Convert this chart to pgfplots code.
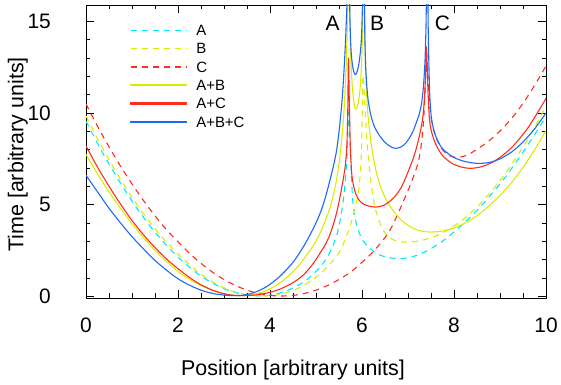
\documentclass[border=0pt]{standalone}
\usepackage{pgfplots}
\pgfplotsset{compat=1.18}
\usepackage{fontspec}
\setmainfont{Liberation Sans}
\definecolor{cA}{RGB}{0,232,250}
\definecolor{cB}{RGB}{218,236,0}
\definecolor{cC}{RGB}{255,45,30}
\definecolor{cABC}{RGB}{30,105,250}
\begin{document}
\begin{tikzpicture}
\begin{axis}[
  at={(86bp,87bp)}, anchor=south west,
  scale only axis, width=460bp, height=293bp,
  xmin=0, xmax=10, ymin=-0.1, ymax=15.9,
  xtick={0,2,...,10}, ytick={0,5,10,15},
  minor x tick num=3, minor y tick num=4,
  major tick length=8bp, minor tick length=4.5bp,
  tick style={black, line width=0.7bp},
  axis line style={line width=0.8bp},
  /pgf/number format/assume math mode=true,
  ticklabel style={font=\fontsize{21}{25}\selectfont, inner sep=0pt},
  xticklabel style={yshift=-19.5bp},
  yticklabel style={xshift=-35bp},
  xlabel={Position [arbitrary units]}, ylabel={Time [arbitrary units]},
  label style={font=\fontsize{21.5}{25}\selectfont},
  xlabel style={at={(axis description cs:0.45,-0.246)}, anchor=center},
  ylabel style={at={(axis description cs:-0.148,0.49)}, anchor=center},
  legend style={at={(axis description cs:0.0957,0.945)}, anchor=north west,
    draw=none, fill=none, inner sep=0pt, outer sep=0pt, row sep=0pt, column sep=9bp,
    font=\fontsize{15}{18}\selectfont,
    nodes={inner sep=0pt, text height=14.5bp, text depth=3.8bp}},
  legend cell align=left,
  legend image code/.code={\draw[#1] (0bp,0bp) -- (56bp,0bp);},
  every axis plot/.append style={line width=1.1bp, line join=round},
]
\addlegendimage{draw=cA, line width=1.3bp, dash pattern=on 6bp off 5bp}
\addlegendentry{A}
\addlegendimage{draw=cB, line width=1.3bp, dash pattern=on 6bp off 5bp}
\addlegendentry{B}
\addlegendimage{draw=cC, line width=1.3bp, dash pattern=on 6bp off 5bp}
\addlegendentry{C}
\addlegendimage{legend image code/.code={\fill[cB] (0bp,-0.7bp) rectangle (56bp,0.7bp);}}
\addlegendentry{A+B}
\addlegendimage{legend image code/.code={\fill[cC] (0bp,-0.7bp) rectangle (56bp,0.7bp);}}
\addlegendentry{A+C}
\addlegendimage{legend image code/.code={\fill[cABC] (0bp,-0.7bp) rectangle (56bp,0.7bp);}}
\addlegendentry{A+B+C}
\addplot[forget plot, cA, dash pattern=on 6bp off 5bp, smooth, tension=0.5] coordinates {
(0,9.56) (0.25,8.35) (0.5,7.22) (0.75,6.18) (1,5.19) (1.25,4.3) (1.5,3.5) (1.75,2.78) (2,2.13) (2.25,1.58) (2.5,1.1) (2.75,0.71) (3,0.41) (3.25,0.2) (3.5,0.07) (3.7,0.02) (3.85,0.02) (4,0.05) (4.2,0.16) (4.4,0.33) (4.6,0.58) (4.8,0.9) (5,1.35) (5.1,1.62) (5.2,1.95) (5.3,2.38) (5.4,2.95) (5.48,3.6) (5.55,4.5) (5.6,5.4) (5.64,6.4) (5.67,7.5) (5.69,8.6) (5.705,10.0) (5.725,9.6) (5.745,8.2) (5.77,6.6) (5.8,5.2) (5.85,4.3) (5.9,3.75) (5.99,3.15) (6.08,2.85) (6.15,2.65) (6.32,2.33) (6.5,2.15) (6.7,2.07) (6.86,2.05) (7.05,2.12) (7.22,2.26) (7.4,2.46) (7.58,2.72) (7.77,3.04) (7.95,3.4) (8.13,3.78) (8.31,4.2) (8.49,4.66) (8.67,5.15) (8.85,5.68) (9.04,6.25) (9.22,6.86) (9.4,7.5) (9.58,8.16) (9.76,8.85) (10,9.8)
};
\addplot[forget plot, cB, dash pattern=on 6bp off 5bp, smooth, tension=0.5] coordinates {
(0,9.84) (0.25,8.6) (0.5,7.45) (0.75,6.39) (1,5.4) (1.25,4.5) (1.5,3.68) (1.75,2.95) (2,2.3) (2.25,1.72) (2.5,1.2) (2.75,0.78) (3,0.46) (3.25,0.22) (3.5,0.07) (3.7,0.02) (3.9,0.01) (4.05,0.03) (4.2,0.08) (4.35,0.18) (4.5,0.31) (4.65,0.48) (4.8,0.69) (5,1.03) (5.15,1.35) (5.3,1.75) (5.42,2.1) (5.55,2.6) (5.67,3.35) (5.75,3.9) (5.83,4.6) (5.9,5.4) (5.95,6.3) (5.99,8.0) (6.02,12.0) (6.06,10.5) (6.1,8.8) (6.14,7.5) (6.19,6.3) (6.25,5.3) (6.3,4.7) (6.36,4.2) (6.43,3.75) (6.5,3.45) (6.6,3.2) (6.7,3.06) (6.82,2.98) (6.95,2.95) (7.1,2.97) (7.3,3.05) (7.5,3.19) (7.75,3.46) (8,3.83) (8.25,4.3) (8.5,4.87) (8.75,5.55) (9,6.3) (9.25,7.18) (9.5,8.15) (9.75,9.2) (10,10.38)
};
\addplot[forget plot, cC, dash pattern=on 6bp off 5bp, smooth, tension=0.5] coordinates {
(0,10.5) (0.25,9.28) (0.5,8.16) (0.75,7.1) (1,6.13) (1.25,5.22) (1.5,4.39) (1.75,3.63) (2,2.97) (2.25,2.34) (2.5,1.79) (2.75,1.31) (3,0.91) (3.25,0.58) (3.5,0.33) (3.75,0.145) (4,0.04) (4.25,0.01) (4.5,0.04) (4.75,0.15) (5,0.33) (5.25,0.58) (5.5,0.91) (5.75,1.31) (6,1.85) (6.25,2.45) (6.5,3.2) (6.65,3.8) (6.79,4.55) (6.92,5.3) (7.04,6.01) (7.13,6.6) (7.22,7.29) (7.28,8.1) (7.33,9.3) (7.36,10.6) (7.38,12.0) (7.395,13.4) (7.43,12.2) (7.47,10.5) (7.52,9.5) (7.58,8.9) (7.66,8.4) (7.75,8.0) (7.85,7.75) (7.95,7.62) (8.1,7.58) (8.3,7.72) (8.53,8.07) (8.75,8.46) (9,9.02) (9.25,9.7) (9.5,10.53) (9.75,11.5) (10,12.57)
};
\addplot[forget plot, cB, smooth, tension=0.5] coordinates {
(0,7.74) (0.25,6.68) (0.5,5.7) (0.75,4.8) (1,3.95) (1.25,3.2) (1.5,2.5) (1.75,1.9) (2,1.35) (2.25,0.92) (2.5,0.58) (2.75,0.32) (3,0.13) (3.2,0.05) (3.4,0.03) (3.6,0.08) (3.8,0.2) (4,0.4) (4.2,0.7) (4.4,1.1) (4.6,1.6) (4.8,2.25) (5,3.0) (5.15,3.8) (5.3,4.8) (5.42,6.0) (5.52,7.6) (5.6,9.8) (5.65,12.2) (5.68,14.6) (5.70,17) (5.71,19) (5.725,19) (5.74,14.5) (5.77,12.3) (5.8,11.1) (5.85,10.25) (5.9,10.35) (5.95,11.1) (5.99,12.6) (6.015,15) (6.03,19) (6.045,19) (6.06,15) (6.08,12.5) (6.12,10.2) (6.2,8.3) (6.3,6.9) (6.4,6.0) (6.5,5.4) (6.6,4.95) (6.7,4.6) (6.8,4.3) (6.9,4.05) (7.1,3.72) (7.3,3.55) (7.5,3.5) (7.75,3.56) (8,3.72) (8.25,4.0) (8.5,4.39) (8.75,4.9) (9,5.5) (9.25,6.2) (9.5,7.03) (9.75,7.98) (10,9.05)
};
\addplot[forget plot, cC, smooth, tension=0.5] coordinates {
(0,8.2) (0.25,7.05) (0.5,6.0) (0.75,5.03) (1,4.13) (1.25,3.35) (1.5,2.65) (1.75,2.03) (2,1.5) (2.25,1.02) (2.5,0.62) (2.75,0.33) (3,0.13) (3.25,0.04) (3.5,0.03) (3.75,0.09) (4,0.21) (4.25,0.42) (4.5,0.74) (4.7,1.1) (4.85,1.5) (5,2.0) (5.1,2.4) (5.2,2.8) (5.3,3.35) (5.4,4.1) (5.48,4.9) (5.55,5.8) (5.6,6.5) (5.64,7.2) (5.67,8.2) (5.69,10.0) (5.705,13.0) (5.725,10.5) (5.745,8.3) (5.78,6.6) (5.85,5.7) (5.95,5.2) (6.07,4.98) (6.2,4.89) (6.32,4.87) (6.45,4.94) (6.6,5.17) (6.72,5.46) (6.85,5.92) (6.93,6.35) (7.0,6.78) (7.08,7.29) (7.15,7.8) (7.23,8.56) (7.3,9.4) (7.34,10.2) (7.37,11.4) (7.39,12.6) (7.40,13.6) (7.43,11.5) (7.46,9.9) (7.5,9.1) (7.59,8.38) (7.73,7.74) (7.93,7.29) (8.15,7.06) (8.35,6.98) (8.6,7.07) (8.89,7.39) (9.25,8.11) (9.62,9.24) (10,10.8)
};
\addplot[forget plot, cABC, smooth, tension=0.5] coordinates {
(0,6.6) (0.25,5.7) (0.5,4.8) (0.75,4.0) (1,3.25) (1.25,2.58) (1.5,1.95) (1.75,1.42) (2,0.95) (2.25,0.6) (2.5,0.33) (2.75,0.15) (3,0.06) (3.3,0.03) (3.6,0.15) (3.9,0.48) (4.2,1.05) (4.5,1.85) (4.75,2.8) (5.0,4.0) (5.15,4.95) (5.3,6.3) (5.45,8.0) (5.56,10.5) (5.63,13.3) (5.68,16.5) (5.70,19) (5.715,19) (5.735,15.5) (5.76,13.5) (5.8,12.5) (5.85,12.1) (5.9,12.3) (5.95,13.0) (5.99,14.2) (6.015,16.5) (6.03,19) (6.045,19) (6.06,14.5) (6.08,12.5) (6.11,11.3) (6.14,10.6) (6.2,9.8) (6.28,9.2) (6.4,8.7) (6.5,8.4) (6.6,8.2) (6.72,8.07) (6.85,8.15) (6.95,8.35) (7.01,8.56) (7.1,8.95) (7.18,9.47) (7.25,10.0) (7.3,10.6) (7.34,11.6) (7.37,12.9) (7.39,14.6) (7.405,17) (7.415,19) (7.425,19) (7.44,14.5) (7.47,11.2) (7.51,9.7) (7.58,8.9) (7.66,8.4) (7.75,8.05) (7.84,7.85) (8.0,7.57) (8.2,7.38) (8.4,7.28) (8.57,7.25) (8.8,7.32) (9.0,7.5) (9.25,7.87) (9.5,8.42) (9.75,9.13) (10,10.0)
};
\node[font=\fontsize{21}{25}\selectfont, inner sep=0pt] at (axis cs:5.36,14.9) {A};
\node[font=\fontsize{21}{25}\selectfont, inner sep=0pt] at (axis cs:6.33,14.9) {B};
\node[font=\fontsize{21}{25}\selectfont, inner sep=0pt] at (axis cs:7.75,14.9) {C};
\end{axis}
\pgfresetboundingbox
\path[use as bounding box] (0,0) rectangle (561bp,385bp);
\end{tikzpicture}
\end{document}
